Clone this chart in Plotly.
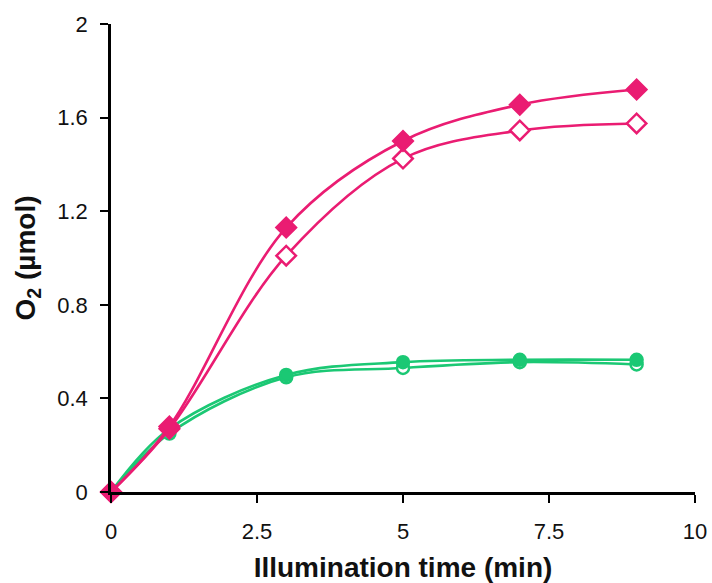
import plotly.graph_objects as go

time_min = [0, 1, 3, 5, 7, 9]
pink_filled = [0, 0.28, 1.13, 1.50, 1.655, 1.72]
pink_open = [0, 0.27, 1.01, 1.425, 1.545, 1.575]
green_filled = [0, 0.27, 0.50, 0.555, 0.565, 0.565]
green_open = [0, 0.25, 0.49, 0.53, 0.555, 0.545]

x_ticks = [0, 2.5, 5, 7.5, 10]
x_tick_labels = ["0", "2.5", "5", "7.5", "10"]
y_ticks = [0, 0.4, 0.8, 1.2, 1.6, 2]
y_tick_labels = ["0", "0.4", "0.8", "1.2", "1.6", "2"]

PINK = "#EA1C72"
GREEN = "#1BC874"

fig = go.Figure()

def add(y, color, symbol, filled):
    fig.add_trace(go.Scatter(
        x=time_min, y=y, mode="lines+markers",
        line=dict(color=color, width=2.6, shape="spline", smoothing=1.0),
        marker=dict(symbol=symbol, size=15 if "diamond" in symbol else 12,
                    color=color if filled else "white",
                    line=dict(color=color, width=2.5)),
        showlegend=False, cliponaxis=False))

add(green_open, GREEN, "circle", False)
add(green_filled, GREEN, "circle", True)
add(pink_open, PINK, "diamond", False)
add(pink_filled, PINK, "diamond", True)

FAM = "Liberation Sans, Arial, sans-serif"
axis_font = dict(family=FAM, size=22, color="#111")

fig.update_layout(
    width=712, height=583,
    margin=dict(l=111, r=17, t=24, b=91, autoexpand=False),
    paper_bgcolor="white", plot_bgcolor="white",
    xaxis=dict(range=[0, 10], tickvals=x_ticks, ticktext=x_tick_labels,
               showgrid=False, zeroline=False, showline=True,
               linecolor="black", linewidth=2.5, ticks="outside",
               ticklen=8, tickwidth=2, tickcolor="black",
               tickfont=axis_font, ticklabelstandoff=10, automargin=False,
               title=dict(text="<b>Illumination time (min)</b>",
                          font=dict(family=FAM, size=28, color="#111"),
                          standoff=15)),
    yaxis=dict(range=[0, 2], tickvals=y_ticks, ticktext=y_tick_labels,
               showgrid=False, zeroline=False, showline=True,
               linecolor="black", linewidth=2.5, ticks="outside",
               ticklen=8, tickwidth=2, tickcolor="black",
               tickfont=axis_font, ticklabelstandoff=8, automargin=False,
               title=dict(text="<b>O<sub>2</sub> (µmol)</b>",
                          font=dict(family=FAM, size=28, color="#111"),
                          standoff=14)),
)

fig.write_html("out.html",
               config={"displayModeBar": False},
               post_script="document.body.style.margin='0';document.body.style.overflow='hidden';")
